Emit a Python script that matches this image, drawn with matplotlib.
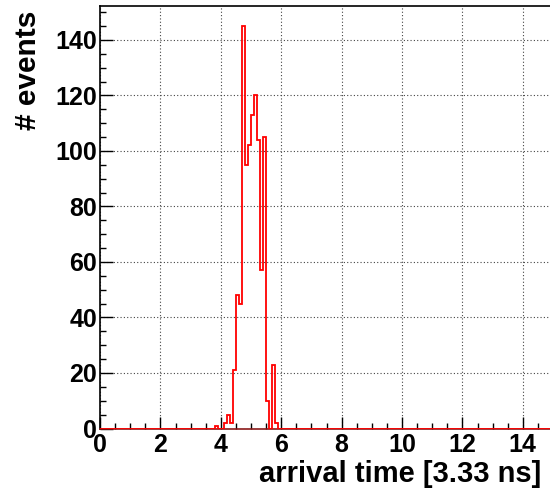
import numpy as np
import matplotlib
matplotlib.use("Agg")
import matplotlib.pyplot as plt
from matplotlib.ticker import MultipleLocator

# Histogram data: 150 bins of width 0.1 over [0, 15]; only non-empty bins listed
bin_lows = [3.8, 4.1, 4.2, 4.3, 4.4, 4.5, 4.6, 4.7, 4.8, 4.9, 5.0, 5.1, 5.2, 5.3, 5.4, 5.5, 5.7, 5.8]
counts   = [1,   2,   5,   2,   21,  48,  45,  145, 95,  102, 113, 120, 104, 57,  105, 10,  23,  2]
x_ticks = [0, 2, 4, 6, 8, 10, 12, 14]
y_ticks = [0, 20, 40, 60, 80, 100, 120, 140]

plt.rcParams['font.family'] = ['Liberation Sans', 'DejaVu Sans']
plt.rcParams['font.weight'] = 'bold'

W, H = 550, 493
fig = plt.figure(figsize=(W / 100, H / 100), dpi=100)
ax = fig.add_axes([100 / W, (H - 428.5) / H, 453 / W, (428.5 - 6) / H])

edges = np.linspace(0, 15, 151)
centers = [b + 0.05 for b in bin_lows]
ax.hist(centers, bins=edges, weights=counts, histtype='step', color='red', linewidth=1.3, zorder=3)

ax.set_xlim(0, 15)
ax.set_ylim(0, max(counts) * 1.05)

ax.xaxis.set_major_locator(MultipleLocator(2))
ax.xaxis.set_minor_locator(MultipleLocator(0.5))
ax.yaxis.set_major_locator(MultipleLocator(20))
ax.yaxis.set_minor_locator(MultipleLocator(5))
ax.set_xticks(x_ticks)
ax.set_yticks(y_ticks)
ax.set_xticklabels([str(v) for v in x_ticks], fontsize=18, fontweight='bold')
ax.set_yticklabels([str(v) for v in y_ticks], fontsize=18, fontweight='bold')

ax.tick_params(which='major', direction='in', length=9, width=1, pad=3)
ax.tick_params(which='minor', direction='in', length=4.5, width=1)
ax.tick_params(axis='y', which='major', pad=2)

ax.grid(True, which='major', color='#444444', linestyle=(0, (1, 2)), linewidth=0.8)
ax.set_axisbelow(True)

ax.spines['right'].set_visible(False)
ax.spines['bottom'].set_color('#8b1a1a')
for s in ['left', 'top', 'bottom']:
    ax.spines[s].set_linewidth(1.2)

fig.text(541 / W, 1 - 474 / H, 'arrival time [3.33 ns]', ha='right', va='center',
         fontsize=21, fontweight='bold')
fig.text(28 / W, 1 - 11 / H, '# events', rotation=90, ha='center', va='top',
         fontsize=21.5, fontweight='bold')

fig.savefig('out.png', dpi=100)
